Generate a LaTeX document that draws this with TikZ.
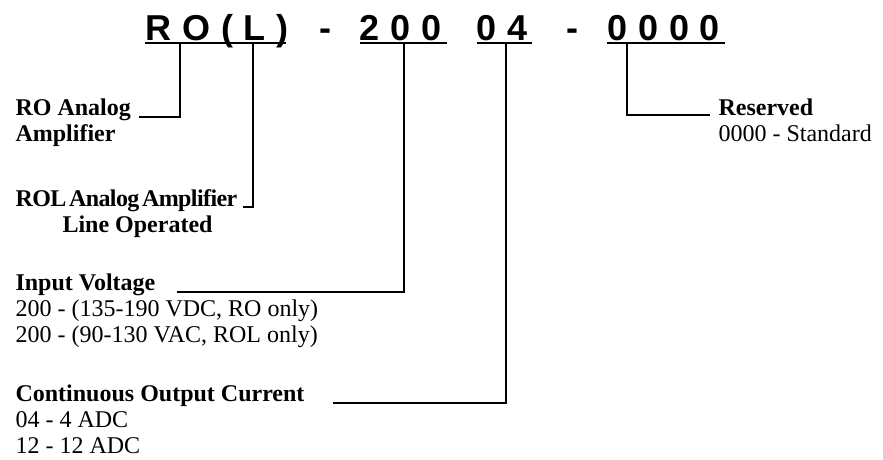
\documentclass[tikz,border=0pt]{standalone}
\usepackage{fontspec}
\setmainfont{Liberation Serif}
\newfontfamily\codefont{Liberation Sans}[LetterSpace=30]
\newfontfamily\tightfont{Liberation Serif}[LetterSpace=-2.5,WordSpace=0.5]
\usepackage{tikz}

\begin{document}
\begin{tikzpicture}[x=1pt,y=-1pt,line width=1.1pt]
\useasboundingbox (0,0) rectangle (883,460);
\tikzset{code/.style={anchor=base west,inner sep=0pt,font=\codefont\bfseries\fontsize{36}{36}\selectfont},
  desc/.style={anchor=base west,inner sep=0pt,align=left,font=\fontsize{24}{26}\selectfont}}
% part number
\node[code] (ro) at (145,41) {RO(L)};
\node[code,anchor=base] (d1) at (325,41) {-};
\node[code] (volt) at (359,41) {200};
\node[code] (amps) at (476,41) {04};
\node[code,anchor=base] (d2) at (572,41) {-};
\node[code] (res) at (607,41) {0000};
\draw[line width=2pt] (145,43) -- (286,43);
\draw[line width=2pt] (360,43) -- (447,43);
\draw[line width=2pt] (477,43) -- (532,43);
\draw[line width=2pt] (607,43) -- (725,43);
% the fields (anchored on the last line)
\node[desc] (amp) at (15,141) {\textbf{RO Analog}\\\textbf{Amplifier}};
\node[desc] (ampl) at (15,232) {{\tightfont\bfseries ROL Analog Amplifier}\\\hspace{47pt}\textbf{Line Operated}};
\node[desc] (vin) at (15,342) {\textbf{Input Voltage}\\200 - (135-190 VDC, RO only)\\200 - (90-130 VAC, ROL only)};
\node[desc] (iout) at (15,453) {\textbf{Continuous Output Current}\\04 - 4 ADC\\12 - 12 ADC};
\node[desc] (resv) at (718,141) {\textbf{Reserved}\\0000 - Standard};
% leader lines
\coordinate (t1) at (180,43);  \coordinate (e1) at (139,117);
\coordinate (t2) at (253,43);  \coordinate (e2) at (243,207);
\coordinate (t3) at (404,43);  \coordinate (e3) at (177,292);
\coordinate (t4) at (506,43);  \coordinate (e4) at (333,403);
\coordinate (t5) at (627,43);  \coordinate (e5) at (710,115);
\draw (t1) |- (e1);
\draw (t2) |- (e2);
\draw (t3) |- (e3);
\draw (t4) |- (e4);
\draw (t5) |- (e5);
\end{tikzpicture}
\end{document}
